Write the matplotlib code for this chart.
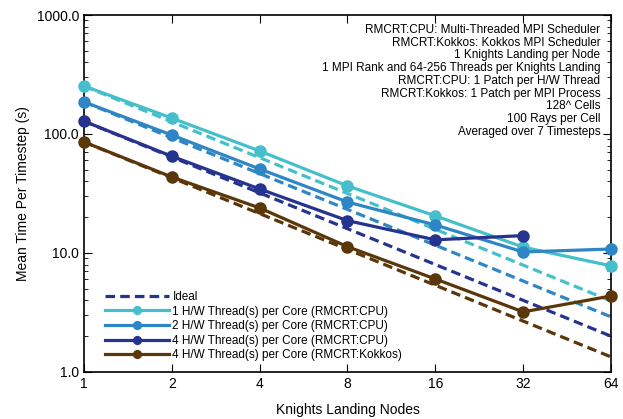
import matplotlib.pyplot as plt
import numpy as np

plt.rcParams['font.family'] = ['Liberation Sans', 'DejaVu Sans']

nodes = [1, 2, 4, 8, 16, 32, 64]
xlabels = ['1', '2', '4', '8', '16', '32', '64']

cpu1 = [253, 136, 72, 36.6, 20.5, 11.2, 7.8]
cpu2 = [186, 98, 50.8, 26.8, 17.2, 10.2, 10.8]
cpu4 = [128, 65, 34.5, 18.7, 12.9, 14.0]
kokkos4 = [85.7, 43.5, 23.9, 11.3, 6.05, 3.2, 4.35]

names = ['1 H/W Thread(s) per Core (RMCRT:CPU)',
         '2 H/W Thread(s) per Core (RMCRT:CPU)',
         '4 H/W Thread(s) per Core (RMCRT:CPU)',
         '4 H/W Thread(s) per Core (RMCRT:Kokkos)']
colors = ['#45bfcc', '#2f86c4', '#26338f', '#5a3608']

notes = ['RMCRT:CPU: Multi-Threaded MPI Scheduler',
         'RMCRT:Kokkos: Kokkos MPI Scheduler',
         '1 Knights Landing per Node',
         '1 MPI Rank and 64-256 Threads per Knights Landing',
         'RMCRT:CPU: 1 Patch per H/W Thread',
         'RMCRT:Kokkos: 1 Patch per MPI Process',
         '128^ Cells',
         '100 Rays per Cell',
         'Averaged over 7 Timesteps']

fig = plt.figure(figsize=(6.23, 4.19), dpi=100)
ax = fig.add_axes([0.1348, 0.1122, 0.8459, 0.852])

allseries = [cpu1, cpu2, cpu4, kokkos4]
n = np.array(nodes, dtype=float)

# ideal scaling from the 1-node time
for s, c in zip(allseries, colors):
    ax.plot(n, s[0] / n, '--', color=c, lw=2.3, dashes=(3, 1.6))

for s, c, lab in zip(allseries, colors, names):
    ax.plot(n[:len(s)], s, '-o', color=c, lw=2.3, ms=8, label=lab, clip_on=False, zorder=3)

ideal_handle, = ax.plot([], [], '--', color=colors[2], lw=2.3, dashes=(3, 1.6), label='Ideal')

ax.set_xscale('log', base=2)
ax.set_yscale('log')
ax.set_xlim(1, 64)
ax.set_ylim(1, 1000)
ax.set_xticks(nodes)
ax.set_xticklabels(xlabels)
ax.set_yticks([1, 10, 100, 1000])
ax.set_yticklabels(['1.0', '10.0', '100.0', '1000.0'])
ax.minorticks_on()
ax.xaxis.set_minor_locator(plt.NullLocator())
ax.tick_params(which='both', direction='in', top=True, right=True, labelsize=10)
ax.tick_params(which='major', length=6)
ax.tick_params(which='minor', length=3)
for sp in ax.spines.values():
    sp.set_linewidth(1.2)

ax.set_xlabel('Knights Landing Nodes', fontsize=10, labelpad=9)
ax.set_ylabel('Mean Time Per Timestep (s)', fontsize=10, labelpad=5)

ax.text(0.98, 0.975, '\n'.join(notes), transform=ax.transAxes, ha='right', va='top',
        fontsize=8.5, linespacing=1.08)

h, l = ax.get_legend_handles_labels()
order = [4, 0, 1, 2, 3]
ax.legend([h[i] for i in order], [l[i] for i in order], loc='lower left',
          bbox_to_anchor=(0.02, 0.0), frameon=False, fontsize=8.5,
          handlelength=5.4, labelspacing=0.22, markerscale=0.7, handletextpad=0.3)

fig.savefig('out.png', dpi=100)
